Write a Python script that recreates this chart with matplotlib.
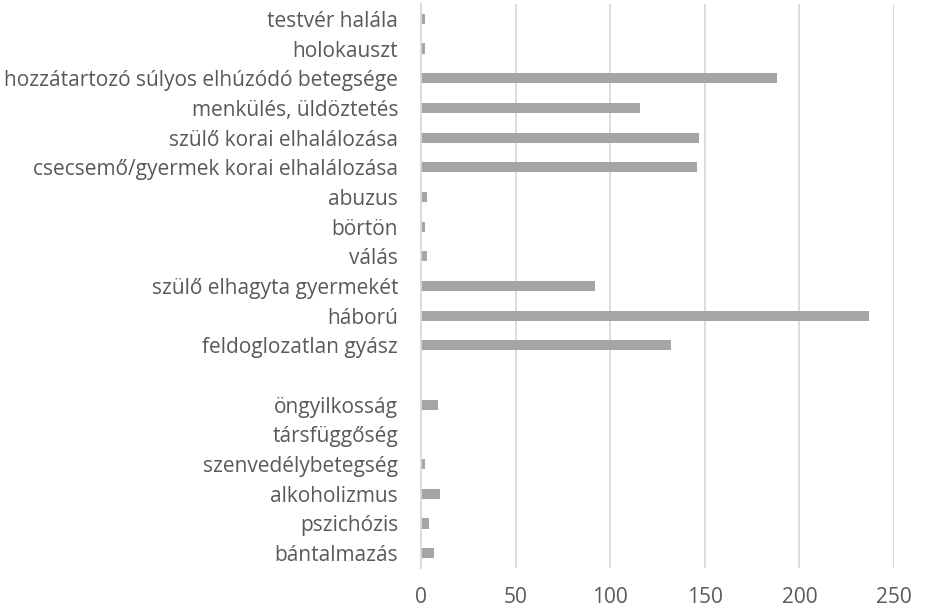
import numpy as np
import matplotlib.pyplot as plt

# categories from bottom to top, as Excel draws them
categories = ['bántalmazás', 'pszichózis', 'alkoholizmus', 'szenvedélybetegség',
              'társfüggőség', 'öngyilkosság', '',
              'feldoglozatlan gyász', 'háború', 'szülő elhagyta gyermekét', 'válás',
              'börtön', 'abuzus', 'csecsemő/gyermek korai elhalálozása',
              'szülő korai elhalálozása', 'menkülés, üldöztetés',
              'hozzátartozó súlyos elhúzódó betegsége', 'holokauszt', 'testvér halála']
values = [7, 4, 10, 2, 0, 9, np.nan,
          132, 237, 92, 3, 2, 3, 146, 147, 116, 188, 2, 2]
xticks = [0, 50, 100, 150, 200, 250]

plt.rcParams['font.family'] = ['Open Sans', 'DejaVu Sans']
text_color = '#595959'
grid_color = '#D9D9D9'

fig = plt.figure(figsize=(9.53, 6.10), dpi=100)
ax = fig.add_axes([421 / 953, 1 - 568 / 610, (894 - 421) / 953, (568 - 4) / 610])

y = np.arange(len(categories))
ax.barh(y, values, height=0.34, color='#A5A5A5', zorder=3)

ax.set_xlim(0, 250)
ax.set_ylim(-0.5, len(categories) - 0.5)
ax.set_xticks(xticks)
ax.set_yticks(y)
ax.set_yticklabels(categories)
ax.grid(axis='x', color=grid_color, linewidth=1.3, zorder=0)

for s in ['top', 'right', 'bottom']:
    ax.spines[s].set_visible(False)
ax.spines['left'].set_color(grid_color)
ax.spines['left'].set_linewidth(1.3)
ax.spines['left'].set_zorder(4)

ax.tick_params(axis='both', length=0, colors=text_color, labelsize=15)
ax.tick_params(axis='y', pad=16.5)
ax.tick_params(axis='x', pad=14)

fig.savefig('out.png', dpi=100)
